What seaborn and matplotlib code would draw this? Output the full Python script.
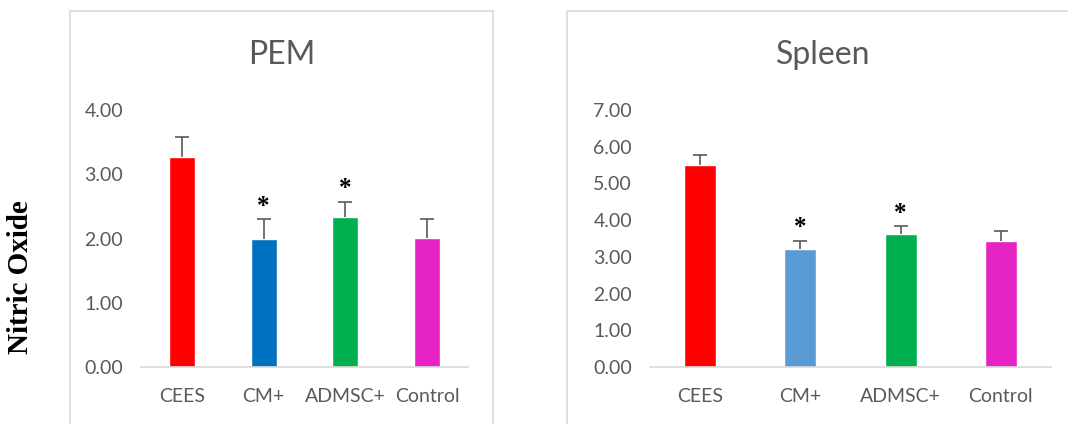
import matplotlib
matplotlib.use("Agg")
import matplotlib.pyplot as plt
from matplotlib.patches import Rectangle
import seaborn as sns

# ── Data ───────────────────────────────────────────────────────────────────────
groups = ["CEES", "CM+", "ADMSC+", "Control"]

pem_values = [3.27, 1.99, 2.33, 2.01]
pem_errors = [0.31, 0.31, 0.24, 0.30]
pem_stars = ["", "*", "*", ""]

spleen_values = [5.50, 3.22, 3.61, 3.43]
spleen_errors = [0.27, 0.22, 0.23, 0.28]
spleen_stars = ["", "*", "*", ""]

pem_colors = ["#FF0000", "#0070C0", "#00B050", "#E624C4"]
spleen_colors = ["#FF0000", "#5B9BD5", "#00B050", "#E624C4"]

pem_ticks = [0, 1, 2, 3, 4]
spleen_ticks = [0, 1, 2, 3, 4, 5, 6, 7]

# ── Style ──────────────────────────────────────────────────────────────────────
sns.set_style("white")
plt.rcParams["font.family"] = ["Lato", "DejaVu Sans"]
_TEXT = "#595959"
_BORDER = "#D9D9D9"

W, H = 1068, 424
fig = plt.figure(figsize=(W / 100, H / 100), dpi=100)

# panel frames (Excel chart areas)
fig.add_artist(Rectangle((70 / W, -0.2), (493 - 70) / W, 1.2 - 11 / H,
                         transform=fig.transFigure, fill=False,
                         edgecolor=_BORDER, linewidth=1.2))
fig.add_artist(Rectangle((567 / W, -0.2), 0.6, 1.2 - 11 / H,
                         transform=fig.transFigure, fill=False,
                         edgecolor=_BORDER, linewidth=1.2))


def draw_panel(rect, values, errors, stars, colors, ticks, title, title_x):
    ax = fig.add_axes(rect)
    sns.barplot(x=groups, y=values, hue=groups, palette=colors, width=0.32,
                legend=False, saturation=1, ax=ax)
    pos = list(range(len(groups)))
    _, caps, _ = ax.errorbar(pos, values, yerr=[[0] * len(errors), errors],
                             fmt="none", ecolor=_TEXT, elinewidth=1.2,
                             capsize=5, capthick=1.2)
    caps[0].set_visible(False)   # hide the lower caps sitting on the bars
    for p, v, e, s in zip(pos, values, errors, stars):
        if s:
            ax.annotate(s, (p, v + e), xytext=(0, 1), textcoords="offset points",
                        ha="center", va="bottom", fontsize=18, fontweight="bold",
                        family="Liberation Serif", color="black")
    ax.set_ylim(ticks[0], ticks[-1])
    ax.set_xlim(-0.5, len(groups) - 0.5)
    ax.set_yticks(ticks)
    ax.set_yticklabels([f"{t:.2f}" for t in ticks])
    ax.set_xlabel("")
    ax.set_ylabel("")
    ax.tick_params(axis="y", length=0, pad=13, labelsize=14, labelcolor=_TEXT)
    ax.tick_params(axis="x", length=0, pad=15, labelsize=14, labelcolor=_TEXT)
    for side in ["top", "right", "left"]:
        ax.spines[side].set_visible(False)
    ax.spines["bottom"].set_color(_BORDER)
    ax.spines["bottom"].set_linewidth(1.2)
    ax.patch.set_alpha(0)
    fig.text(title_x / W, 1 - 55 / H, title, ha="center", va="center",
             fontsize=23, color=_TEXT)
    return ax


y0 = 1 - 367 / H
h = (367 - 110) / H
draw_panel([141 / W, y0, 327 / W, h], pem_values, pem_errors, pem_stars,
           pem_colors, pem_ticks, "PEM", 282)
draw_panel([650 / W, y0, 401 / W, h], spleen_values, spleen_errors, spleen_stars,
           spleen_colors, spleen_ticks, "Spleen", 823)

fig.text(21 / W, 1 - 277 / H, "Nitric Oxide", rotation=90, ha="center",
         va="center", fontsize=21, fontweight="bold", family="Liberation Serif",
         color="black")

fig.savefig("out.png", dpi=100)
plt.close(fig)
